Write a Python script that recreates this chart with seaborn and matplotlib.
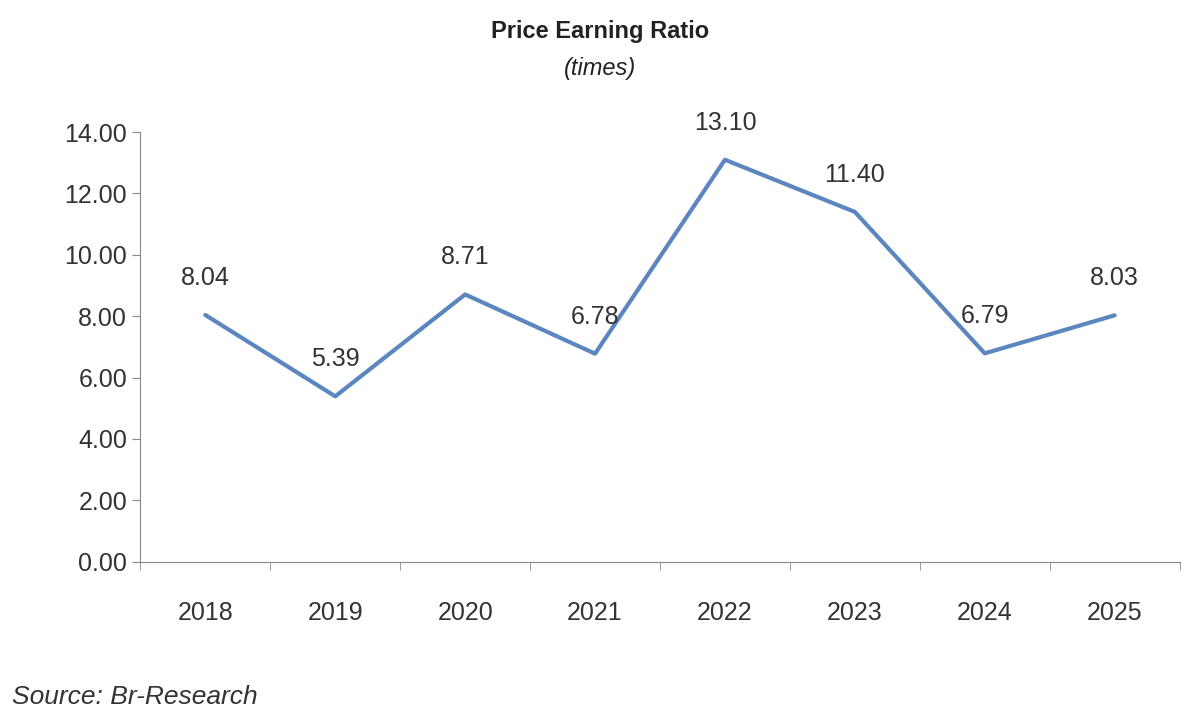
import matplotlib
matplotlib.use("Agg")
import matplotlib.pyplot as plt
import seaborn as sns
import pandas as pd
import numpy as np

years = ['2018', '2019', '2020', '2021', '2022', '2023', '2024', '2025']
pe_ratio = [8.04, 5.39, 8.71, 6.78, 13.10, 11.40, 6.79, 8.03]
labels = ['8.04', '5.39', '8.71', '6.78', '13.10', '11.40', '6.79', '8.03']

sns.set_style('white')
plt.rcParams['font.family'] = ['Liberation Sans', 'DejaVu Sans']

df = pd.DataFrame({'year': years, 'pe': pe_ratio})

fig = plt.figure(figsize=(12, 7.22), dpi=100)
ax = fig.add_axes([0.117, 0.222, 0.866, 0.595])
sns.lineplot(data=df, x='year', y='pe', color='#5b86c0', linewidth=3, ax=ax, sort=False)

for i, (v, t) in enumerate(zip(pe_ratio, labels)):
    ax.annotate(t, (i, v), xytext=(0, 18), textcoords='offset points',
                ha='center', va='bottom', fontsize=18, color='#333333')

ax.set_xlim(-0.5, 7.5)
ax.set_ylim(0, 14)
ax.set_yticks(np.arange(0, 15, 2))
ax.set_yticklabels([f'{v:.2f}' for v in np.arange(0, 15, 2)])
ax.set_xticks(range(8))
ax.set_xticks(np.arange(-0.5, 8, 1), minor=True)
ax.tick_params(axis='x', which='major', length=0, pad=28, labelsize=18, colors='#333333')
ax.tick_params(axis='x', which='minor', length=6, color='#888888', direction='out', bottom=True)
ax.tick_params(axis='y', length=6, color='#888888', direction='out', labelsize=18, colors='#333333', left=True)
ax.set_xlabel('')
ax.set_ylabel('')
for s in ['top', 'right']:
    ax.spines[s].set_visible(False)
for s in ['left', 'bottom']:
    ax.spines[s].set_color('#888888')

fig.text(0.5, 0.957, 'Price Earning Ratio', ha='center', va='center', fontsize=17, fontweight='bold', color='#222222')
fig.text(0.5, 0.905, '(times)', ha='center', va='center', fontsize=17, fontstyle='italic', color='#222222')
fig.text(0.01, 0.035, 'Source: Br-Research', ha='left', va='center', fontsize=19, fontstyle='italic', color='#333333')

fig.savefig('out.png', dpi=100)
